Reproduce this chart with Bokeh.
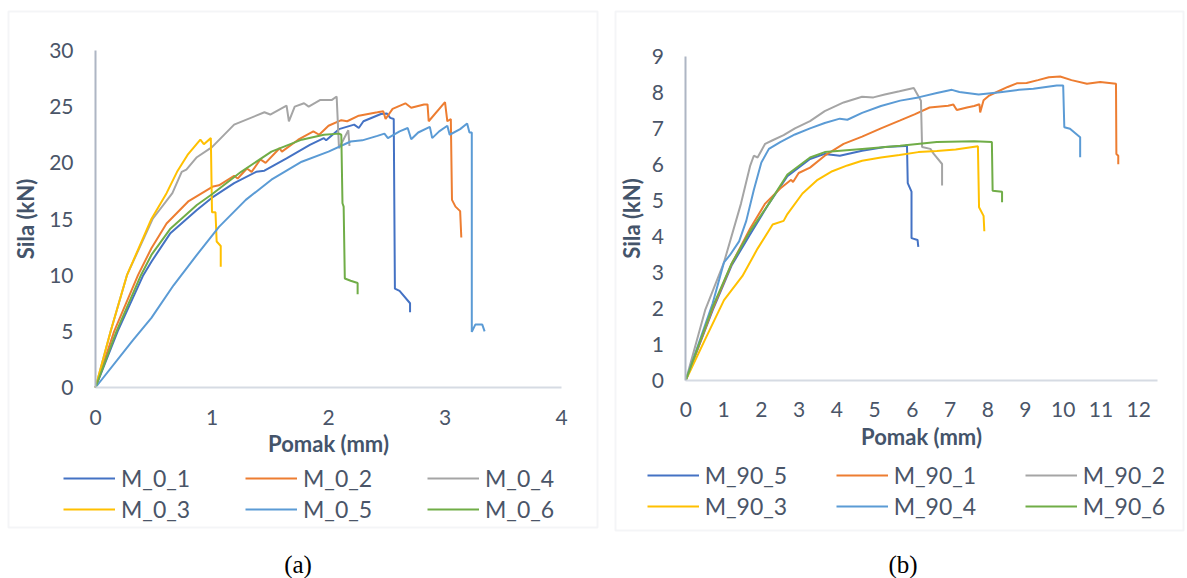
from bokeh.plotting import figure
from bokeh.models import Range1d, FixedTicker, Legend, LegendItem, Label, BoxAnnotation
from bokeh.layouts import row
from bokeh.embed import file_html
from bokeh.resources import INLINE

# ---------------- Panel (a) data: Pomak (mm) vs Sila (kN) ----------------
a_x_ticks = [0, 1, 2, 3, 4]
a_y_ticks = [0, 5, 10, 15, 20, 25, 30]

m0_1_x = [0, 0.19, 0.41, 0.48, 0.64, 0.87, 1.0, 1.19, 1.38, 1.45, 1.64, 1.84, 1.96, 1.98, 2.09, 2.22, 2.26, 2.30, 2.45, 2.50, 2.53, 2.56, 2.57, 2.61, 2.70, 2.70]
m0_1_y = [0, 5.0, 10.0, 11.2, 13.7, 15.8, 16.9, 18.2, 19.2, 19.3, 20.4, 21.6, 22.2, 22.0, 23.0, 23.4, 23.1, 23.7, 24.35, 24.4, 24.0, 23.9, 8.8, 8.6, 7.5, 6.7]

m0_2_x = [0, 0.16, 0.365, 0.48, 0.61, 0.80, 1.01, 1.06, 1.19, 1.22, 1.30, 1.34, 1.415, 1.46, 1.58, 1.60, 1.74, 1.87, 1.92, 2.0, 2.11, 2.16, 2.26, 2.42, 2.47, 2.49, 2.55, 2.66, 2.71, 2.82, 2.85, 2.86, 3.0, 3.02, 3.05, 3.06, 3.09, 3.13, 3.14]
m0_2_y = [0, 5.0, 10.0, 12.4, 14.6, 16.6, 17.9, 18.0, 18.85, 18.6, 19.5, 19.2, 20.3, 20.0, 21.3, 21.0, 22.06, 22.8, 22.5, 23.3, 23.8, 23.7, 24.2, 24.5, 24.6, 23.9, 24.8, 25.3, 24.9, 25.2, 25.2, 23.7, 25.4, 23.7, 23.9, 16.7, 16.1, 15.7, 13.35]

m0_4_x = [0, 0.13, 0.27, 0.49, 0.66, 0.74, 0.78, 0.87, 1.0, 1.19, 1.45, 1.50, 1.64, 1.66, 1.71, 1.79, 1.83, 1.93, 2.03, 2.07, 2.09, 2.17, 2.18]
m0_4_y = [0, 5.0, 10.0, 15.0, 17.3, 19.2, 19.4, 20.5, 21.4, 23.4, 24.5, 24.3, 25.1, 23.7, 25.0, 25.3, 25.0, 25.6, 25.6, 25.9, 21.3, 22.9, 21.5]

m0_3_x = [0, 0.13, 0.27, 0.48, 0.61, 0.70, 0.79, 0.90, 0.93, 0.99, 1.0, 1.03, 1.04, 1.075, 1.075]
m0_3_y = [0, 5.0, 10.0, 15.0, 17.3, 19.2, 20.7, 22.06, 21.66, 22.2, 15.6, 15.6, 13.0, 12.6, 10.75]

m0_5_x = [0, 0.32, 0.48, 0.67, 0.87, 1.06, 1.29, 1.51, 1.77, 2.0, 2.19, 2.29, 2.42, 2.48, 2.51, 2.61, 2.68, 2.71, 2.77, 2.87, 2.89, 2.95, 3.02, 3.04, 3.13, 3.19, 3.21, 3.23, 3.23, 3.26, 3.32, 3.34]
m0_5_y = [0, 4.2, 6.2, 9.1, 11.8, 14.3, 16.7, 18.5, 20.1, 21.0, 21.9, 22.0, 22.4, 22.6, 22.2, 22.8, 23.1, 22.1, 22.7, 23.2, 22.2, 22.8, 23.3, 22.5, 23.0, 23.5, 22.7, 22.7, 4.95, 5.6, 5.6, 5.0]

m0_6_x = [0, 0.18, 0.39, 0.48, 0.64, 0.87, 1.0, 1.25, 1.51, 1.77, 1.96, 2.09, 2.11, 2.12, 2.13, 2.14, 2.19, 2.25, 2.25]
m0_6_y = [0, 5.0, 10.0, 11.8, 14.1, 16.25, 17.2, 19.2, 21.0, 22.06, 22.5, 22.6, 22.5, 16.4, 16.1, 9.7, 9.5, 9.3, 8.3]

a_names = ["M_0_1", "M_0_2", "M_0_4", "M_0_3", "M_0_5", "M_0_6"]
a_xs = [m0_1_x, m0_2_x, m0_4_x, m0_3_x, m0_5_x, m0_6_x]
a_ys = [m0_1_y, m0_2_y, m0_4_y, m0_3_y, m0_5_y, m0_6_y]

# ---------------- Panel (b) data ----------------
b_x_ticks = list(range(0, 13))
b_y_ticks = list(range(0, 10))

m90_5_x = [0, 0.71, 1.21, 1.70, 2.20, 2.69, 3.29, 3.68, 4.08, 4.67, 5.27, 5.81, 5.86, 5.88, 5.98, 5.98, 6.14, 6.16]
m90_5_y = [0, 1.94, 3.18, 4.04, 4.9, 5.66, 6.14, 6.28, 6.23, 6.37, 6.47, 6.50, 6.52, 5.47, 5.23, 3.94, 3.89, 3.70]

m90_1_x = [0, 0.71, 1.21, 1.70, 2.10, 2.50, 2.79, 2.84, 2.99, 3.29, 3.68, 4.18, 4.67, 5.17, 5.68, 6.06, 6.46, 6.95, 7.09, 7.18, 7.45, 7.64, 7.78, 7.80, 7.89, 8.04, 8.24, 8.53, 8.77, 9.03, 9.33, 9.62, 9.92, 10.22, 10.63, 10.98, 11.40, 11.41, 11.46, 11.46]
m90_1_y = [0, 1.98, 3.22, 4.2, 4.9, 5.32, 5.56, 5.50, 5.75, 5.9, 6.23, 6.56, 6.76, 6.99, 7.21, 7.38, 7.57, 7.62, 7.65, 7.50, 7.57, 7.61, 7.66, 7.43, 7.77, 7.90, 8.0, 8.14, 8.24, 8.25, 8.33, 8.41, 8.43, 8.33, 8.23, 8.28, 8.23, 6.28, 6.23, 5.99]

m90_2_x = [0, 0.51, 1.01, 1.46, 1.70, 1.80, 1.90, 2.10, 2.30, 2.59, 2.89, 3.29, 3.68, 4.18, 4.67, 4.97, 5.27, 5.66, 6.04, 6.23, 6.26, 6.48, 6.57, 6.79, 6.79]
m90_2_y = [0, 1.94, 3.27, 4.9, 5.94, 6.23, 6.18, 6.56, 6.66, 6.80, 6.99, 7.19, 7.47, 7.71, 7.87, 7.85, 7.93, 8.02, 8.11, 7.76, 6.47, 6.42, 6.28, 6.0, 5.40]

m90_3_x = [0, 0.51, 1.01, 1.50, 1.90, 2.30, 2.59, 2.69, 3.09, 3.49, 3.88, 4.28, 4.67, 5.17, 5.66, 6.16, 6.65, 7.15, 7.74, 7.77, 7.89, 7.91]
m90_3_y = [0, 1.13, 2.22, 2.89, 3.65, 4.32, 4.42, 4.61, 5.18, 5.56, 5.80, 5.96, 6.09, 6.18, 6.25, 6.33, 6.36, 6.40, 6.49, 4.80, 4.56, 4.13]

m90_4_x = [0, 0.71, 1.01, 1.16, 1.41, 1.60, 1.80, 2.0, 2.2, 2.5, 2.89, 3.29, 3.68, 4.08, 4.28, 4.67, 5.17, 5.68, 6.16, 6.65, 7.05, 7.25, 7.76, 8.33, 8.83, 9.21, 9.83, 10.0, 10.03, 10.18, 10.45, 10.45]
m90_4_y = [0, 2.13, 3.27, 3.46, 3.85, 4.42, 5.28, 6.04, 6.42, 6.61, 6.82, 6.99, 7.14, 7.26, 7.23, 7.42, 7.61, 7.76, 7.85, 7.97, 8.06, 8.0, 7.93, 7.99, 8.06, 8.09, 8.18, 8.18, 7.02, 6.98, 6.74, 6.19]

m90_6_x = [0, 0.71, 1.21, 1.70, 2.20, 2.69, 3.29, 3.68, 4.67, 5.68, 6.65, 7.64, 8.11, 8.13, 8.38, 8.38]
m90_6_y = [0, 2.03, 3.23, 4.13, 4.9, 5.71, 6.18, 6.33, 6.42, 6.51, 6.61, 6.63, 6.61, 5.26, 5.23, 4.94]

b_names = ["M_90_5", "M_90_1", "M_90_2", "M_90_3", "M_90_4", "M_90_6"]
b_xs = [m90_5_x, m90_1_x, m90_2_x, m90_3_x, m90_4_x, m90_6_x]
b_ys = [m90_5_y, m90_1_y, m90_2_y, m90_3_y, m90_4_y, m90_6_y]

COLORS = ["#4472C4", "#ED7D31", "#A5A5A5", "#FFC000", "#5B9BD5", "#70AD47"]
TXT = "#4a5568"
FONT = "Lato"
H = 578


def make_panel(width, xmap, ymap, xbounds, ybounds, xt, yt, xs, ys, names, col_w, leg_x, leg_rows,
               cap, cap_px, box_px, ylab_standoff):
    # xmap/ymap: (pixel of data a, data a, pixel of data b, data b) in canvas pixels
    px0, dx0, px1, dx1 = xmap
    sx = (px1 - px0) / (dx1 - dx0)
    x_start = dx0 - px0 / sx
    x_end = dx0 + (width - px0) / sx
    py0, dy0, py1, dy1 = ymap
    sy = (py0 - py1) / (dy1 - dy0)
    y_top = dy0 + py0 / sy
    y_bot = dy0 - (H - py0) / sy

    def to_x(px):
        return x_start + px / sx

    def to_y(py):
        return y_top - py / sy

    p = figure(width=width, height=H, output_backend="svg", toolbar_location=None,
               x_range=Range1d(x_start, x_end), y_range=Range1d(y_bot, y_top),
               min_border_left=0, min_border_right=0, min_border_top=0, min_border_bottom=0)
    p.outline_line_color = None
    p.grid.visible = False
    p.background_fill_color = "white"
    p.border_fill_color = "white"

    for ax, ticks, bnds in ((p.xaxis[0], xt, xbounds), (p.yaxis[0], yt, ybounds)):
        ax.fixed_location = 0
        ax.bounds = bnds
        ax.ticker = FixedTicker(ticks=ticks)
        ax.major_tick_line_color = None
        ax.minor_tick_line_color = None
        ax.major_tick_out = 0
        ax.major_tick_in = 0
        ax.major_label_text_font = FONT
        ax.major_label_text_font_size = "21px"
        ax.major_label_text_color = TXT
        ax.axis_label_text_font = FONT
        ax.axis_label_text_font_size = "22px"
        ax.axis_label_text_font_style = "bold"
        ax.axis_label_text_color = "#44546A"
    p.xaxis.axis_label = "Pomak (mm)"
    p.yaxis.axis_label = "Sila (kN)"
    p.xaxis.axis_line_color = "#d6dbe3"
    p.xaxis.axis_line_width = 2
    p.yaxis.axis_line_color = "#aeb6c4"
    p.yaxis.axis_line_width = 2
    p.xaxis.major_label_standoff = 22
    p.yaxis.major_label_standoff = 22
    p.xaxis.axis_label_standoff = 2
    p.yaxis.axis_label_standoff = ylab_standoff

    rends = []
    for x, y, c in zip(xs, ys, COLORS):
        rends.append(p.line(x, y, line_color=c, line_width=2))

    for r_idx, row_center in enumerate(leg_rows):
        items = [LegendItem(label=names[3 * r_idx + k], renderers=[rends[3 * r_idx + k]]) for k in range(3)]
        lg = Legend(items=items, orientation="horizontal", location=(leg_x, H - (row_center + 14)),
                    glyph_width=52, glyph_height=28, label_height=28, label_width=col_w - 58,
                    label_standoff=6, spacing=0, padding=0, margin=0,
                    border_line_color=None, background_fill_alpha=0,
                    label_text_font=FONT, label_text_font_size="23px", label_text_color=TXT)
        p.add_layout(lg, "center")

    p.add_layout(Label(x=to_x(cap_px[0]), y=to_y(cap_px[1]), text=cap,
                       text_font="Liberation Serif", text_font_size="25px", text_color="black",
                       text_align="center", text_baseline="middle"))

    bl, bt, br, bb = box_px
    p.add_layout(BoxAnnotation(left=to_x(bl), right=to_x(br), top=to_y(bt), bottom=to_y(bb),
                               fill_alpha=0, line_color="#d9dde4", line_width=2, level="underlay"))
    return p


p1 = make_panel(600, (95, 0, 561, 4), (387, 0, 50, 30), (0, 4), (0, 30), a_x_ticks, a_y_ticks,
                a_xs, a_ys, a_names, 182, 63, (477.5, 508.5), "(a)", (297.5, 564), (8, 11, 597, 527), 7)
p2 = make_panel(587, (85.4, 0, 557, 12.5), (379.5, 0, 55.5, 9), (0, 12.5), (0, 9), b_x_ticks, b_y_ticks,
                b_xs, b_ys, b_names, 189, 46.7, (474.7, 506), "(b)", (302.5, 564), (15, 11, 583, 530), 3)

layout = row(p1, p2, spacing=0)
open("out.html", "w").write(file_html(layout, INLINE))
